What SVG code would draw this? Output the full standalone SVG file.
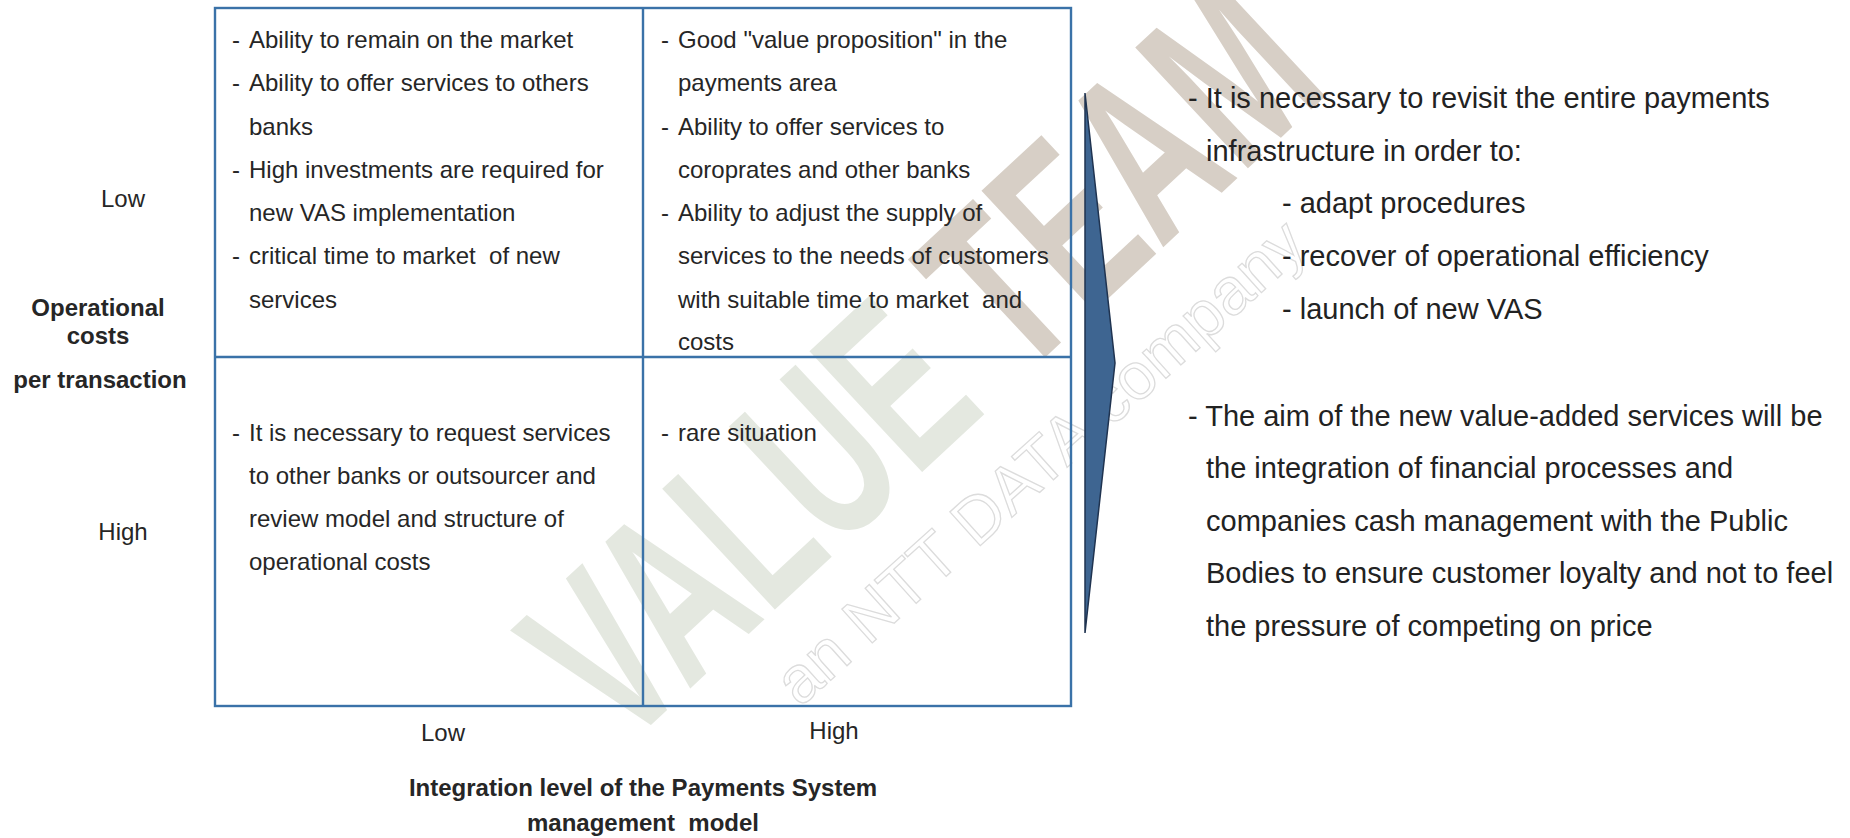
<svg xmlns="http://www.w3.org/2000/svg" width="1850" height="838" viewBox="0 0 1850 838">
<style>
  .t { font-family: "Liberation Sans", Arial, sans-serif; font-size: 24px; fill: #262626; }
  .b { font-family: "Liberation Sans", Arial, sans-serif; font-size: 24px; font-weight: bold; fill: #262626; }
  .r { font-family: "Liberation Sans", Arial, sans-serif; font-size: 29px; fill: #222222; }
  .c { text-anchor: middle; }
  .grid { fill: none; stroke: #3a72a8; stroke-width: 2.4; }
  .wm1 { font-family: "Liberation Sans", Arial, sans-serif; font-weight: bold; font-size: 240px; fill: #e4e8e0; }
  .wm2 { fill: #d7cfc6; }
  .wm3 { font-family: "Liberation Sans", Arial, sans-serif; font-size: 66px; fill: none; stroke: #dcdcdc; stroke-width: 1.3; }
</style>
<rect width="1850" height="838" fill="#ffffff"/>
<g id="watermark">
  <g transform="translate(622,752) rotate(-43) scale(0.63,1)">
    <text class="wm1">VALUE <tspan class="wm2">TEAM</tspan></text>
  </g>
  <g transform="translate(800,708) rotate(-42)">
    <text class="wm3">an NTT DATA company</text>
  </g>
</g>
<g id="matrix">
  <rect class="grid" x="215" y="8" width="856" height="698"/>
  <line class="grid" x1="643" y1="8" x2="643" y2="706"/>
  <line class="grid" x1="215" y1="357" x2="1071" y2="357"/>
</g>
<g id="q-top-left">
  <text class="t" x="232" y="48">-</text><text class="t" x="249" y="48">Ability to remain on the market</text>
  <text class="t" x="232" y="91">-</text><text class="t" x="249" y="91">Ability to offer services to others</text>
  <text class="t" x="249" y="135">banks</text>
  <text class="t" x="232" y="178">-</text><text class="t" x="249" y="178">High investments are required for</text>
  <text class="t" x="249" y="221">new VAS implementation</text>
  <text class="t" x="232" y="264">-</text><text class="t" x="249" y="264" xml:space="preserve">critical time to market  of new</text>
  <text class="t" x="249" y="308">services</text>
</g>
<g id="q-top-right">
  <text class="t" x="661" y="48">-</text><text class="t" x="678" y="48">Good "value proposition" in the</text>
  <text class="t" x="678" y="91">payments area</text>
  <text class="t" x="661" y="135">-</text><text class="t" x="678" y="135">Ability to offer services to</text>
  <text class="t" x="678" y="178">coroprates and other banks</text>
  <text class="t" x="661" y="221">-</text><text class="t" x="678" y="221">Ability to adjust the supply of</text>
  <text class="t" x="678" y="264">services to the needs of customers</text>
  <text class="t" x="678" y="308" xml:space="preserve">with suitable time to market  and</text>
  <text class="t" x="678" y="350">costs</text>
</g>
<g id="q-bottom-left">
  <text class="t" x="232" y="441">-</text><text class="t" x="249" y="441">It is necessary to request services</text>
  <text class="t" x="249" y="484">to other banks or outsourcer and</text>
  <text class="t" x="249" y="527">review model and structure of</text>
  <text class="t" x="249" y="570">operational costs</text>
</g>
<g id="q-bottom-right">
  <text class="t" x="661" y="441">-</text><text class="t" x="678" y="441">rare situation</text>
</g>
<g id="y-axis">
  <text class="t c" x="123" y="207">Low</text>
  <text class="b c" x="98" y="316">Operational</text>
  <text class="b c" x="98" y="344">costs</text>
  <text class="b c" x="100" y="388">per transaction</text>
  <text class="t c" x="123" y="540">High</text>
</g>
<g id="x-axis">
  <text class="t c" x="443" y="741">Low</text>
  <text class="t c" x="834" y="739">High</text>
  <text class="b c" x="643" y="796">Integration level of the Payments System</text>
  <text class="b c" x="643" y="831" xml:space="preserve">management  model</text>
</g>
<g id="connectors">
  <path d="M1085,93 L1115,363 L1085,633 Z" fill="#3e6591" stroke="#1f3350" stroke-width="1.5" stroke-linejoin="miter"/>
</g>
<g id="conclusions">
  <text class="r" x="1188" y="108">- It is necessary to revisit the entire payments</text>
  <text class="r" x="1206" y="161">infrastructure in order to:</text>
  <text class="r" x="1282" y="213">- adapt procedures</text>
  <text class="r" x="1282" y="266">- recover of operational efficiency</text>
  <text class="r" x="1282" y="319">- launch of new VAS</text>
  <text class="r" x="1188" y="426">- The aim of the new value-added services will be</text>
  <text class="r" x="1206" y="478">the integration of financial processes and</text>
  <text class="r" x="1206" y="531">companies cash management with the Public</text>
  <text class="r" x="1206" y="583">Bodies to ensure customer loyalty and not to feel</text>
  <text class="r" x="1206" y="636">the pressure of competing on price</text>
</g>
</svg>
